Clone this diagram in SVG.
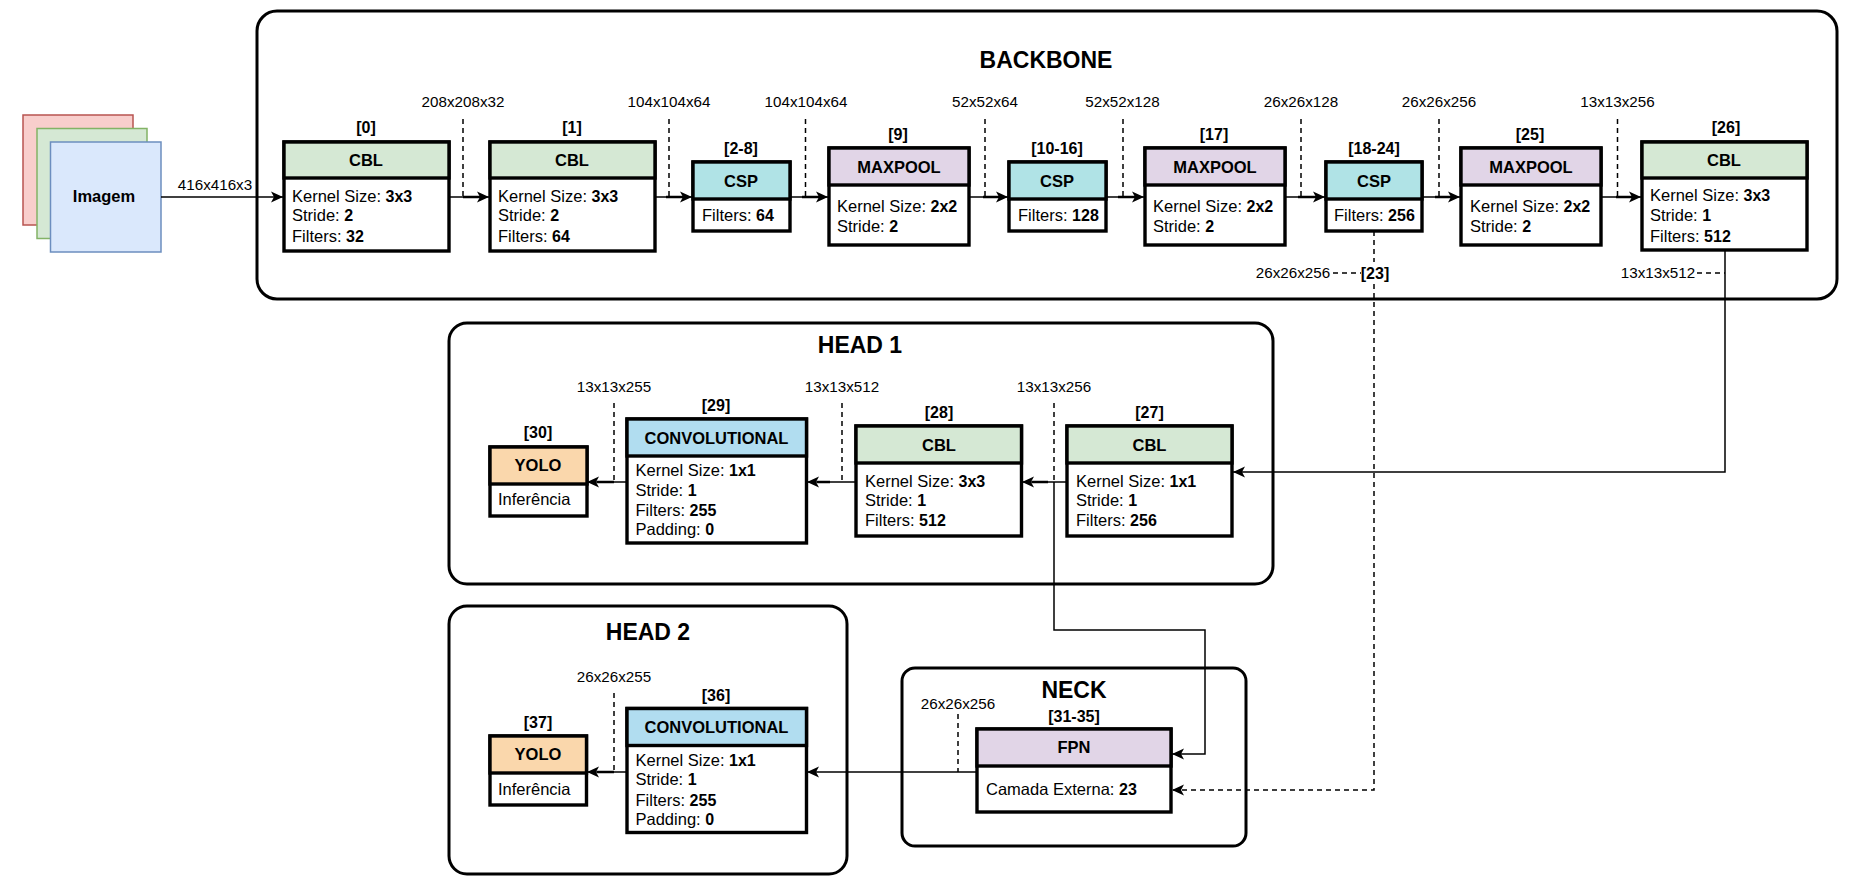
<svg xmlns="http://www.w3.org/2000/svg" width="1856" height="888" viewBox="0 0 1856 888">
<style>
text{font-family:"Liberation Sans",Arial,sans-serif;fill:#000}
.t{font-size:16.5px}.m{text-anchor:middle}.b{font-weight:700}
tspan.b{font-size:16px}
.d{font-size:15.2px;text-anchor:middle}
.i{font-size:16px;font-weight:700;text-anchor:middle}
.h{font-size:23px;font-weight:700;text-anchor:middle}
.c{fill:none;stroke:#000;stroke-width:3}
.box{stroke:#000;stroke-width:3.4;fill:#fff}
.g{fill:#d5e8d4}.k{fill:#b0e3e6}.p{fill:#e1d5e7}.n{fill:#b1ddf0}.y{fill:#fad7ac}
.l{fill:none;stroke:#000;stroke-width:1.5}
.a{marker-end:url(#ar)}
.e{fill:none;stroke:#000;stroke-width:2.5}
.s{fill:none;stroke:#000;stroke-width:1.5;stroke-dasharray:5 4}
</style>
<defs><marker id="ar" markerUnits="userSpaceOnUse" markerWidth="13" markerHeight="12" viewBox="0 0 13 12" refX="12.5" refY="6" orient="auto"><path d="M12.5 6L0.5 0.5L3.5 6L0.5 11.5Z" fill="#000"/></marker></defs>

<g id="containers">
<rect id="backbone" class="c" x="257" y="11" width="1580" height="288" rx="20"/>
<rect id="head1" class="c" x="449" y="323" width="824" height="261" rx="18"/>
<rect id="head2" class="c" x="449" y="606" width="398" height="268" rx="18"/>
<rect id="neck" class="c" x="902" y="668" width="344" height="178" rx="13"/>
<text class="h" x="1046" y="68">BACKBONE</text>
<text class="h" x="860" y="353">HEAD 1</text>
<text class="h" x="648" y="640">HEAD 2</text>
<text class="h" x="1074" y="698">NECK</text>
</g>

<g id="imagem">
<rect x="23" y="115" width="110" height="110" fill="#f8cecc" stroke="#b85450" stroke-width="1.5"/>
<rect x="37" y="128.500" width="110" height="110" fill="#d5e8d4" stroke="#82b366" stroke-width="1.5"/>
<rect x="50.500" y="142" width="110.500" height="110" fill="#dae8fc" stroke="#6c8ebf" stroke-width="1.5"/>
<text class="t b m" x="104" y="202">Imagem</text>
</g>

<g id="n0"><text class="i" x="366" y="133">[0]</text><rect class="box" x="284" y="142" width="165" height="109"/><rect class="box g" x="284" y="142" width="165" height="36"/><text class="t b m" x="366" y="166">CBL</text><text class="t" x="292" y="202">Kernel Size: <tspan class="b">3x3</tspan></text><text class="t" x="292" y="221">Stride: <tspan class="b">2</tspan></text><text class="t" x="292" y="242">Filters: <tspan class="b">32</tspan></text></g>
<g id="n1"><text class="i" x="572" y="133">[1]</text><rect class="box" x="490" y="142" width="165" height="109"/><rect class="box g" x="490" y="142" width="165" height="36"/><text class="t b m" x="572" y="166">CBL</text><text class="t" x="498" y="202">Kernel Size: <tspan class="b">3x3</tspan></text><text class="t" x="498" y="221">Stride: <tspan class="b">2</tspan></text><text class="t" x="498" y="242">Filters: <tspan class="b">64</tspan></text></g>
<g id="n2"><text class="i" x="741" y="154">[2-8]</text><rect class="box" x="693" y="162" width="97" height="69"/><rect class="box k" x="693" y="162" width="97" height="37"/><text class="t b m" x="741" y="187">CSP</text><text class="t" x="702" y="221">Filters: <tspan class="b">64</tspan></text></g>
<g id="n9"><text class="i" x="898" y="140">[9]</text><rect class="box" x="829" y="148" width="140" height="97"/><rect class="box p" x="829" y="148" width="140" height="37"/><text class="t b m" x="899" y="173">MAXPOOL</text><text class="t" x="837" y="212">Kernel Size: <tspan class="b">2x2</tspan></text><text class="t" x="837" y="232">Stride: <tspan class="b">2</tspan></text></g>
<g id="n10"><text class="i" x="1057" y="154">[10-16]</text><rect class="box" x="1009" y="162" width="97" height="69"/><rect class="box k" x="1009" y="162" width="97" height="37"/><text class="t b m" x="1057" y="187">CSP</text><text class="t" x="1018" y="221">Filters: <tspan class="b">128</tspan></text></g>
<g id="n17"><text class="i" x="1214" y="140">[17]</text><rect class="box" x="1145" y="148" width="140" height="97"/><rect class="box p" x="1145" y="148" width="140" height="37"/><text class="t b m" x="1215" y="173">MAXPOOL</text><text class="t" x="1153" y="212">Kernel Size: <tspan class="b">2x2</tspan></text><text class="t" x="1153" y="232">Stride: <tspan class="b">2</tspan></text></g>
<g id="n18"><text class="i" x="1374" y="154">[18-24]</text><rect class="box" x="1326" y="162" width="96" height="69"/><rect class="box k" x="1326" y="162" width="96" height="37"/><text class="t b m" x="1374" y="187">CSP</text><text class="t" x="1334" y="221">Filters: <tspan class="b">256</tspan></text></g>
<g id="n25"><text class="i" x="1530" y="140">[25]</text><rect class="box" x="1461" y="148" width="140" height="97"/><rect class="box p" x="1461" y="148" width="140" height="37"/><text class="t b m" x="1531" y="173">MAXPOOL</text><text class="t" x="1470" y="212">Kernel Size: <tspan class="b">2x2</tspan></text><text class="t" x="1470" y="232">Stride: <tspan class="b">2</tspan></text></g>
<g id="n26"><text class="i" x="1726" y="133">[26]</text><rect class="box" x="1642" y="142" width="165" height="108"/><rect class="box g" x="1642" y="142" width="165" height="36"/><text class="t b m" x="1724" y="166">CBL</text><text class="t" x="1650" y="201">Kernel Size: <tspan class="b">3x3</tspan></text><text class="t" x="1650" y="221">Stride: <tspan class="b">1</tspan></text><text class="t" x="1650" y="242">Filters: <tspan class="b">512</tspan></text></g>

<g id="n27"><text class="i" x="1149.500" y="418">[27]</text><rect class="box" x="1067" y="426" width="165" height="110"/><rect class="box g" x="1067" y="426" width="165" height="37"/><text class="t b m" x="1149.500" y="451">CBL</text><text class="t" x="1076" y="487">Kernel Size: <tspan class="b">1x1</tspan></text><text class="t" x="1076" y="506">Stride: <tspan class="b">1</tspan></text><text class="t" x="1076" y="526">Filters: <tspan class="b">256</tspan></text></g>
<g id="n28"><text class="i" x="939" y="418">[28]</text><rect class="box" x="856" y="426" width="165.500" height="110"/><rect class="box g" x="856" y="426" width="165.500" height="37"/><text class="t b m" x="939" y="451">CBL</text><text class="t" x="865" y="487">Kernel Size: <tspan class="b">3x3</tspan></text><text class="t" x="865" y="506">Stride: <tspan class="b">1</tspan></text><text class="t" x="865" y="526">Filters: <tspan class="b">512</tspan></text></g>
<g id="n29"><text class="i" x="716" y="411">[29]</text><rect class="box" x="627" y="419" width="179.500" height="124"/><rect class="box n" x="627" y="419" width="179.500" height="37"/><text class="t b m" x="716.500" y="444">CONVOLUTIONAL</text><text class="t" x="635.500" y="476">Kernel Size: <tspan class="b">1x1</tspan></text><text class="t" x="635.500" y="496">Stride: <tspan class="b">1</tspan></text><text class="t" x="635.500" y="516">Filters: <tspan class="b">255</tspan></text><text class="t" x="635.500" y="535">Padding: <tspan class="b">0</tspan></text></g>
<g id="n30"><text class="i" x="538" y="438">[30]</text><rect class="box" x="490" y="447" width="97" height="69"/><rect class="box y" x="490" y="447" width="97" height="37"/><text class="t b m" x="538" y="471">YOLO</text><text class="t" x="498" y="505">Inferência</text></g>

<g id="n31"><text class="i" x="1074" y="722">[31-35]</text><rect class="box" x="977" y="729" width="194" height="83"/><rect class="box p" x="977" y="729" width="194" height="37"/><text class="t b m" x="1074" y="753">FPN</text><text class="t" x="986" y="795">Camada Externa: <tspan class="b">23</tspan></text></g>
<g id="n36"><text class="i" x="716" y="701">[36]</text><rect class="box" x="627" y="708.500" width="179.500" height="124"/><rect class="box n" x="627" y="708.500" width="179.500" height="37"/><text class="t b m" x="716.500" y="733">CONVOLUTIONAL</text><text class="t" x="635.500" y="766">Kernel Size: <tspan class="b">1x1</tspan></text><text class="t" x="635.500" y="785">Stride: <tspan class="b">1</tspan></text><text class="t" x="635.500" y="806">Filters: <tspan class="b">255</tspan></text><text class="t" x="635.500" y="825">Padding: <tspan class="b">0</tspan></text></g>
<g id="n37"><text class="i" x="538" y="728">[37]</text><rect class="box" x="490" y="736" width="96.500" height="69"/><rect class="box y" x="490" y="736" width="96.500" height="37"/><text class="t b m" x="538" y="760">YOLO</text><text class="t" x="498" y="795">Inferência</text></g>

<g id="connectors">
<path class="l a" d="M161 197H283"/>
<path class="l a" d="M449 197H489"/><path class="e" d="M463 197H480"/>
<path class="l a" d="M655 197H692"/><path class="e" d="M666 197H684"/>
<path class="l a" d="M790 197H828"/><path class="e" d="M802 197H820"/>
<path class="l a" d="M969 197H1008"/><path class="e" d="M983 197H1000"/>
<path class="l a" d="M1106 197H1144"/><path class="e" d="M1118 197H1136"/>
<path class="l a" d="M1285 197H1325"/><path class="e" d="M1298 197H1316"/>
<path class="l a" d="M1422 197H1460"/><path class="e" d="M1435 197H1452"/>
<path class="l a" d="M1601 197H1641"/><path class="e" d="M1616 197H1632"/>
<path class="s" d="M463 119V197"/>
<path class="s" d="M669 119V197"/>
<path class="s" d="M805.500 119V197"/>
<path class="s" d="M985 119V197"/>
<path class="s" d="M1123 119V197"/>
<path class="s" d="M1301 119V197"/>
<path class="s" d="M1439 119V197"/>
<path class="s" d="M1617.500 119V197"/>
<path class="l a" d="M1725 250V472H1233"/>
<path class="s" d="M1697 273H1725"/>
<path class="s" d="M1333 273H1361"/>
<path class="s" d="M1374 231V262M1374 284V790H1172" style="marker-end:url(#ar)"/>
<path class="l a" d="M1067 482H1022"/><path class="e" d="M1048 482H1032"/>
<path class="l a" d="M856 482H807"/><path class="e" d="M830 482H817"/>
<path class="l a" d="M627 482H587"/><path class="e" d="M614 482H597"/>
<path class="s" d="M1054 403V482"/>
<path class="s" d="M842 403V482"/>
<path class="s" d="M614 403V482"/>
<path class="l a" d="M1054 482V630H1205V754H1172"/>
<path class="l a" d="M977 772H807"/>
<path class="l a" d="M627 772H587"/><path class="e" d="M614 772H597"/>
<path class="s" d="M614 693V772"/>
<path class="s" d="M958 714V772"/>
</g>

<g id="labels">
<text class="d" x="215" y="190">416x416x3</text>
<text class="d" x="463" y="107">208x208x32</text>
<text class="d" x="669" y="107">104x104x64</text>
<text class="d" x="806" y="107">104x104x64</text>
<text class="d" x="985" y="107">52x52x64</text>
<text class="d" x="1122.500" y="107">52x52x128</text>
<text class="d" x="1301" y="107">26x26x128</text>
<text class="d" x="1439" y="107">26x26x256</text>
<text class="d" x="1617.500" y="107">13x13x256</text>
<text class="d" x="1293" y="278">26x26x256</text>
<text class="i" x="1375" y="279">[23]</text>
<text class="d" x="1658" y="278">13x13x512</text>
<text class="d" x="614" y="392">13x13x255</text>
<text class="d" x="842" y="392">13x13x512</text>
<text class="d" x="1054" y="392">13x13x256</text>
<text class="d" x="614" y="682">26x26x255</text>
<text class="d" x="958" y="709">26x26x256</text>
</g>
</svg>
